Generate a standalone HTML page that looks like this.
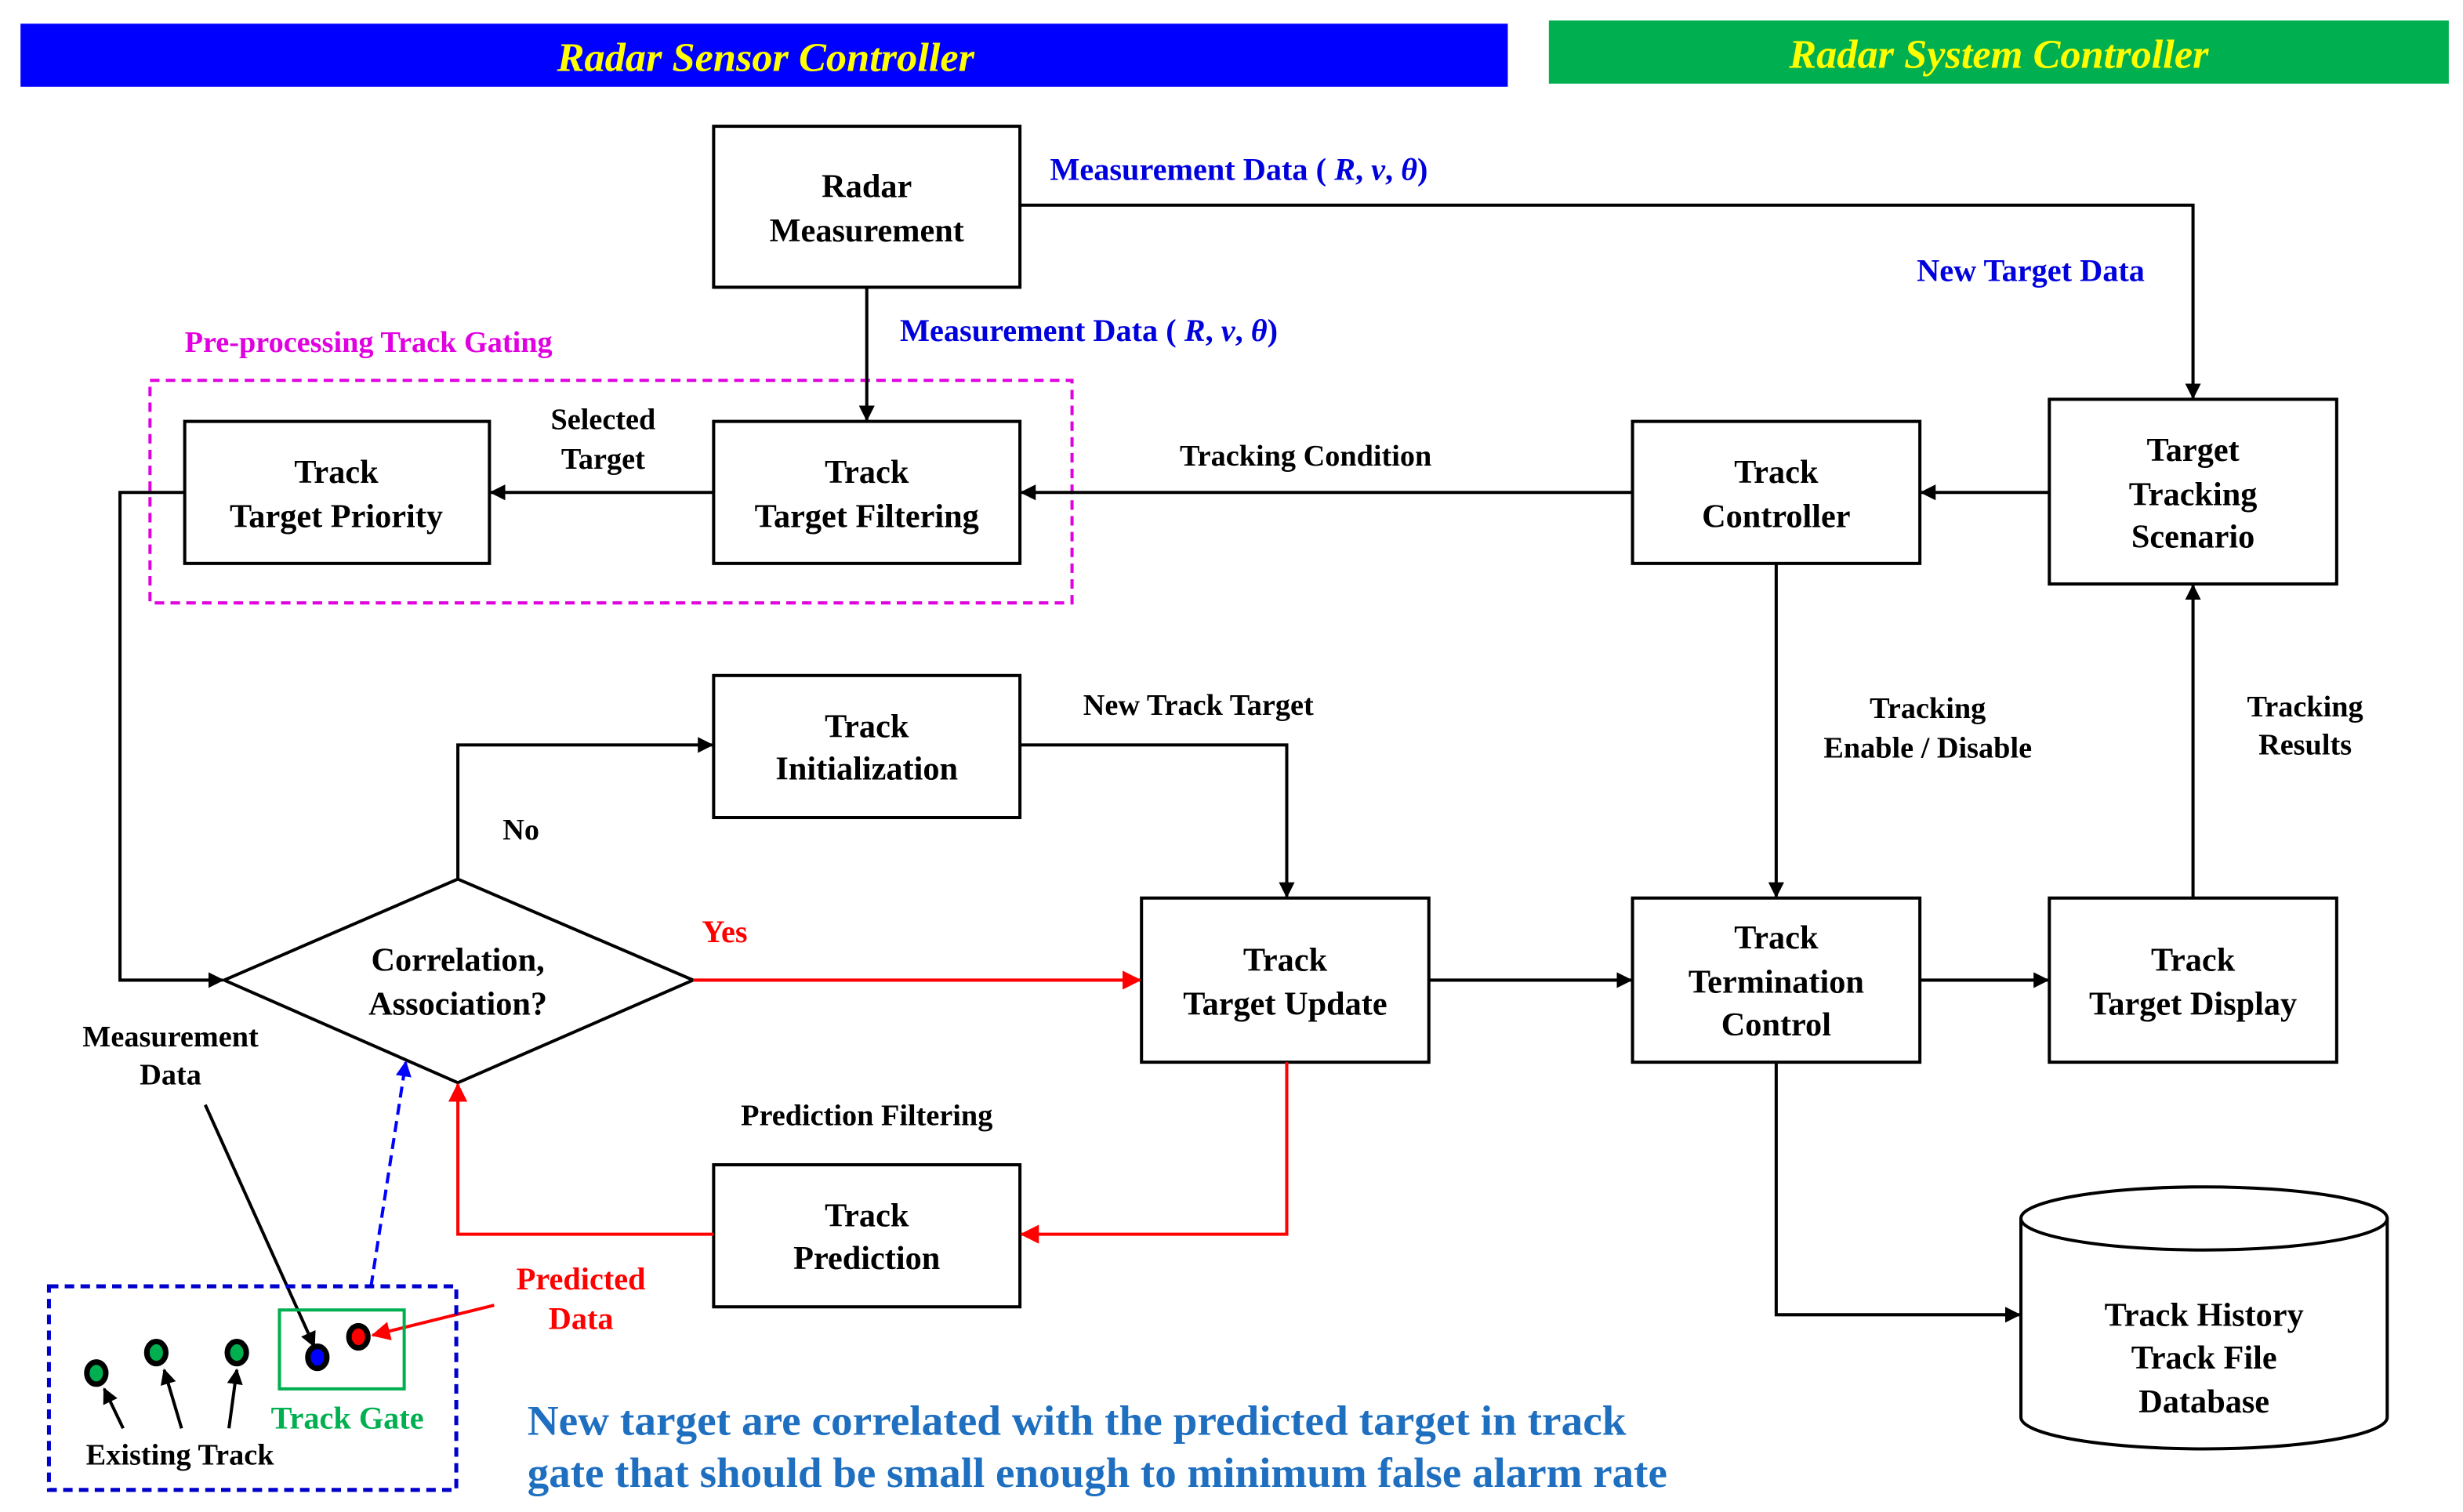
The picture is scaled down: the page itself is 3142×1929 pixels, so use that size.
<!DOCTYPE html>
<html><head><meta charset="utf-8"><style>
html,body{margin:0;padding:0;background:#fff;}
svg{display:block;}
text{font-family:"Liberation Serif",serif;font-weight:bold;}
</style></head><body>
<svg width="3142" height="1929" viewBox="0 0 1560 958" preserveAspectRatio="none" xmlns="http://www.w3.org/2000/svg">
<defs>
<marker id="ak" markerWidth="10" markerHeight="10" refX="9" refY="5" orient="auto" markerUnits="userSpaceOnUse"><path d="M0,0 L10,5 L0,10 z" fill="#000"/></marker>
<marker id="ar" markerWidth="12" markerHeight="12" refX="11" refY="6" orient="auto" markerUnits="userSpaceOnUse"><path d="M0,0 L12,6 L0,12 z" fill="#f00"/></marker>
<marker id="ab" markerWidth="10" markerHeight="10" refX="9" refY="5" orient="auto" markerUnits="userSpaceOnUse"><path d="M0,0 L10,5 L0,10 z" fill="#00f"/></marker>
</defs>
<rect x="13" y="15" width="942" height="40" fill="#0000ff"/>
<text x="485" y="45" font-size="26" fill="#ffff00" font-style="italic" text-anchor="middle">Radar Sensor Controller</text>
<rect x="981" y="13" width="570" height="40" fill="#00b050"/>
<text x="1266" y="43" font-size="26" fill="#ffff00" font-style="italic" text-anchor="middle">Radar System Controller</text>

<rect x="95" y="241" width="584" height="141" fill="none" stroke="#e000e0" stroke-width="2" stroke-dasharray="6,4"/>
<text x="117" y="223" font-size="19" fill="#e000e0">Pre-processing Track Gating</text>

<g fill="#fff" stroke="#000" stroke-width="2">
<rect x="452" y="80" width="194" height="102"/>
<rect x="452" y="267" width="194" height="90"/>
<rect x="117" y="267" width="193" height="90"/>
<rect x="1034" y="267" width="182" height="90"/>
<rect x="1298" y="253" width="182" height="117"/>
<rect x="452" y="428" width="194" height="90"/>
<polygon points="142,621 290,557 439,621 290,686"/>
<rect x="723" y="569" width="182" height="104"/>
<rect x="1034" y="569" width="182" height="104"/>
<rect x="1298" y="569" width="182" height="104"/>
<rect x="452" y="738" width="194" height="90"/>
<path d="M1280,772 L1280,898 A116,20 0 0 0 1512,898 L1512,772"/>
<ellipse cx="1396" cy="772" rx="116" ry="20"/>
</g>

<g font-size="21" text-anchor="middle" fill="#000">
<text x="549" y="125">Radar</text><text x="549" y="153">Measurement</text>
<text x="549" y="306">Track</text><text x="549" y="334">Target Filtering</text>
<text x="213" y="306">Track</text><text x="213" y="334">Target Priority</text>
<text x="1125" y="306">Track</text><text x="1125" y="334">Controller</text>
<text x="1389" y="292">Target</text><text x="1389" y="320">Tracking</text><text x="1389" y="347">Scenario</text>
<text x="549" y="467">Track</text><text x="549" y="494">Initialization</text>
<text x="290" y="615">Correlation,</text><text x="290" y="643">Association?</text>
<text x="814" y="615">Track</text><text x="814" y="643">Target Update</text>
<text x="1125" y="601">Track</text><text x="1125" y="629">Termination</text><text x="1125" y="656">Control</text>
<text x="1389" y="615">Track</text><text x="1389" y="643">Target Display</text>
<text x="549" y="777">Track</text><text x="549" y="804">Prediction</text>
<text x="1396" y="840">Track History</text><text x="1396" y="867">Track File</text><text x="1396" y="895">Database</text>
</g>

<g stroke="#000" stroke-width="2" fill="none" marker-end="url(#ak)">
<path d="M646,130 L1389,130 L1389,252"/>
<path d="M549,182 L549,266"/>
<path d="M1034,312 L647,312"/>
<path d="M1298,312 L1217,312"/>
<path d="M452,312 L311,312"/>
<path d="M117,312 L76,312 L76,621 L141,621"/>
<path d="M290,557 L290,472 L451,472"/>
<path d="M646,472 L815,472 L815,568"/>
<path d="M905,621 L1033,621"/>
<path d="M1216,621 L1297,621"/>
<path d="M1125,357 L1125,568"/>
<path d="M1389,569 L1389,371"/>
<path d="M1125,673 L1125,833 L1279,833"/>
<path d="M130,700 L199,853"/>
<path d="M78,905 L66,880"/>
<path d="M115,905 L104,868"/>
<path d="M145,905 L150,868"/>
</g>
<g stroke="#f00" stroke-width="2" fill="none" marker-end="url(#ar)">
<path d="M439,621 L722,621"/>
<path d="M815,673 L815,782 L647,782"/>
<path d="M452,782 L290,782 L290,687"/>
<path d="M313,827 L236,846"/>
</g>
<path d="M235,815 L257,673" stroke="#00f" stroke-width="2" fill="none" stroke-dasharray="7,4" marker-end="url(#ab)"/>

<rect x="31" y="815" width="258" height="129" fill="none" stroke="#0000cc" stroke-width="2.5" stroke-dasharray="6,4"/>
<rect x="177" y="830" width="79" height="50" fill="none" stroke="#00b050" stroke-width="2"/>
<g stroke="#000" stroke-width="3.5">
<ellipse cx="61" cy="870" rx="6" ry="7" fill="#00b050"/>
<ellipse cx="99" cy="857" rx="6" ry="7" fill="#00b050"/>
<ellipse cx="150" cy="857" rx="6" ry="7" fill="#00b050"/>
<ellipse cx="201" cy="860" rx="6" ry="7" fill="#0000ff"/>
<ellipse cx="227" cy="847" rx="6" ry="7" fill="#ff0000"/>
</g>

<g font-size="20" fill="#0000dd">
<text x="665" y="114">Measurement Data ( <tspan font-style="italic">R</tspan>, <tspan font-style="italic">v</tspan>, <tspan font-style="italic">θ</tspan>)</text>
<text x="570" y="216">Measurement Data ( <tspan font-style="italic">R</tspan>, <tspan font-style="italic">v</tspan>, <tspan font-style="italic">θ</tspan>)</text>
<text x="1214" y="178">New Target Data</text>
</g>
<g font-size="19" fill="#000" text-anchor="middle">
<text x="382" y="272">Selected</text><text x="382" y="297">Target</text>
<text x="827" y="295">Tracking Condition</text>
<text x="759" y="453">New Track Target</text>
<text x="330" y="532">No</text>
<text x="1221" y="455">Tracking</text><text x="1221" y="480">Enable / Disable</text>
<text x="1460" y="454">Tracking</text><text x="1460" y="478">Results</text>
<text x="549" y="713">Prediction Filtering</text>
<text x="108" y="663">Measurement</text><text x="108" y="687">Data</text>
<text x="114" y="928">Existing Track</text>
</g>
<g font-size="20" fill="#f00" text-anchor="middle">
<text x="459" y="597">Yes</text>
<text x="368" y="817">Predicted</text><text x="368" y="842">Data</text>
</g>
<text x="220" y="905" font-size="20" fill="#00b050" text-anchor="middle">Track Gate</text>
<g font-size="27" fill="#1f6fc0">
<text x="334" y="909" textLength="696" lengthAdjust="spacingAndGlyphs">New target are correlated with the predicted target in track</text>
<text x="334" y="942" textLength="722" lengthAdjust="spacingAndGlyphs">gate that should be small enough to minimum false alarm rate</text>
</g>
</svg>
</body></html>
